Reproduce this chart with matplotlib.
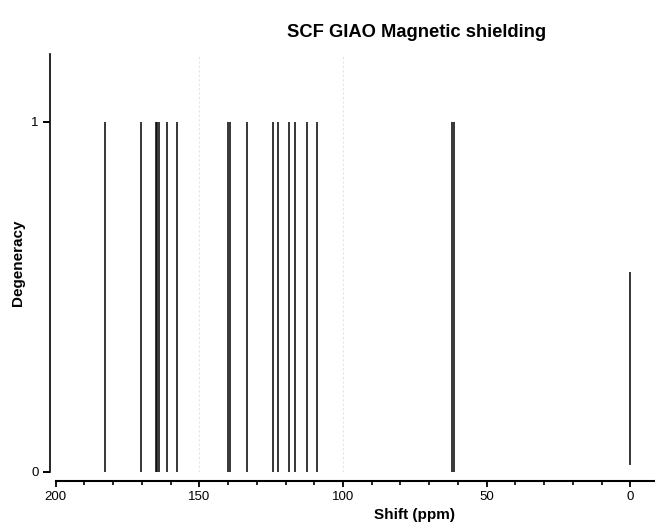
import matplotlib
matplotlib.use('Agg')
import matplotlib.pyplot as plt
from matplotlib.ticker import MultipleLocator

plt.rcParams['font.family'] = ['Liberation Sans', 'DejaVu Sans']

# Data
shifts = [182.9, 170.2, 165.2, 164.6, 164.1, 161.4, 157.9, 140.0, 139.4, 133.4,
          124.3, 122.6, 118.9, 116.6, 112.5, 109.0, 62.0, 61.3, 0.1]
degeneracy = [1, 1, 1, 1, 1, 1, 1, 1, 1, 1,
              1, 1, 1, 1, 1, 1, 1, 1, 0.57]
line_base = [0, 0, 0, 0, 0, 0, 0, 0, 0, 0,
             0, 0, 0, 0, 0, 0, 0, 0, 0.02]
y_ticks = [0, 1]
y_tick_labels = ['0', '1']

title = 'SCF GIAO Magnetic shielding'
x_label = 'Shift (ppm)'
y_label = 'Degeneracy'

W, H = 655, 524
PX = 72 / 100  # points per pixel at dpi 100
fig = plt.figure(figsize=(W / 100, H / 100), dpi=100)
fig.patch.set_facecolor('white')

left = 55.7 / W
bottom = 1 - 472 / H
ax = fig.add_axes([left, bottom, 1 - left, (472 - 54) / H])
ax.set_facecolor('white')

ax.vlines(shifts, line_base, degeneracy, color='black', lw=1.1)

ax.set_xlim(200, -8.6)
ax.set_ylim(0, 1.194)

for s in ['top', 'right']:
    ax.spines[s].set_visible(False)
ax.spines['left'].set_position(('outward', 6 * PX))
ax.spines['bottom'].set_position(('outward', 9 * PX))
ax.spines['left'].set_linewidth(1.2)
ax.spines['bottom'].set_linewidth(1.5)

ax.xaxis.set_major_locator(MultipleLocator(50))
ax.xaxis.set_minor_locator(MultipleLocator(10))
ax.set_yticks(y_ticks)
ax.set_yticklabels(y_tick_labels)

ax.tick_params(axis='x', which='major', direction='out', length=6 * PX, width=1.3,
               labelsize=9.5, pad=4.5 * PX)
ax.tick_params(axis='x', which='minor', direction='out', length=3.5 * PX, width=1.2)
ax.tick_params(axis='y', which='major', direction='out', length=7 * PX, width=1.4,
               labelsize=9.5, pad=4 * PX)

# very faint grid traces visible in the scan
for xv in [150, 100]:
    ax.axvline(xv, color='#e4e4e4', lw=0.8, ls=(0, (2, 2)), zorder=0)
ax.axhline(0, color='#e4e4e4', lw=0.8, ls=(0, (2, 2)), zorder=0)

fig.text(416.5 / W, 1 - 36.7 / H, title, ha='center', va='baseline',
         fontsize=13.2, fontweight='bold')
fig.text(415 / W, 1 - 519 / H, x_label, ha='center', va='baseline',
         fontsize=11, fontweight='bold')
fig.text(18 / W, 1 - 263 / H, y_label, ha='center', va='center',
         rotation=90, fontsize=11, fontweight='bold')

fig.savefig('out.png', dpi=100)
